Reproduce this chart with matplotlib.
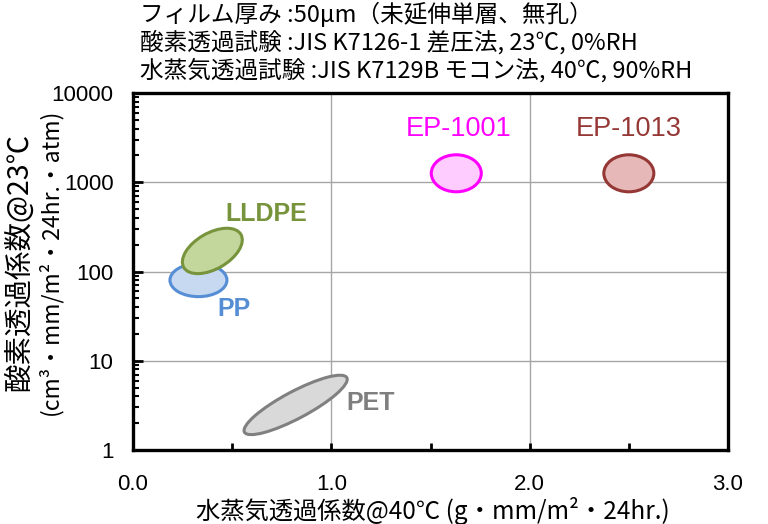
import matplotlib
matplotlib.use('Agg')
import matplotlib.pyplot as plt
from matplotlib.patches import Ellipse
from matplotlib.transforms import ScaledTranslation
from matplotlib.ticker import FixedLocator, LogLocator, NullFormatter

plt.rcParams['font.family'] = ['Noto Sans CJK JP', 'DejaVu Sans']

# data (x: water vapour coefficient, y: oxygen coefficient)
materials = ['EP-1001', 'EP-1013', 'PP', 'LLDPE', 'PET']
wvtr = [1.63, 2.50, 0.33, 0.40, 0.82]
otr = [1260, 1260, 80, 170, 3.2]
face_colors = ['#FFCCFF', '#E6B9B8', '#C6D9F1', '#C3D69B', '#D9D9D9']
edge_colors = ['#FF00FF', '#953735', '#558ED5', '#77933C', '#808080']
# ellipse size in pixels (width, height, angle)
shapes = [(50, 37, 0), (50, 37, 0), (57, 33, 0), (66, 36, 30), (116, 27, 28)]

label_text = ['EP-1001', 'EP-1013', 'PP', 'LLDPE', 'PET']
label_x = [1.64, 2.50, 0.51, 0.67, 1.20]
label_y = [4000, 4000, 38, 440, 3.4]
label_colors = ['#FF00FF', '#953735', '#558ED5', '#77933C', '#7F7F7F']
label_bold = [False, False, True, True, True]
label_size = [19.5, 19.5, 18, 18, 18]

xticks = [0.0, 1.0, 2.0, 3.0]
yticks = [1, 10, 100, 1000, 10000]

header = ['フィルム厚み :50μm（未延伸単層、無孔）',
          '酸素透過試験 :JIS K7126-1 差圧法, 23℃, 0%RH',
          '水蒸気透過試験 :JIS K7129B モコン法, 40℃, 90%RH']

fig = plt.figure(figsize=(7.68, 5.24), dpi=100)
ax = fig.add_axes([133/768, 1-450/524, 595/768, 357/524])
ax.set_yscale('log')
ax.set_xlim(0, 3.0)
ax.set_ylim(1, 10000)

ax.xaxis.set_major_locator(FixedLocator(xticks))
ax.xaxis.set_minor_locator(FixedLocator([0.5, 1.5, 2.5]))
ax.set_xticklabels(['%.1f' % v for v in xticks], family='Liberation Sans', fontsize=16)
ax.yaxis.set_major_locator(FixedLocator(yticks))
ax.yaxis.set_minor_locator(LogLocator(base=10, subs=range(2, 10)))
ax.yaxis.set_minor_formatter(NullFormatter())
ax.set_yticklabels([str(v) for v in yticks], family='Liberation Sans', fontsize=16)

ax.tick_params(axis='x', which='both', direction='in', length=5, width=2, pad=17, top=False)
ax.tick_params(axis='y', which='major', direction='in', length=7, width=2, pad=14, right=False)
ax.tick_params(axis='y', which='minor', direction='in', length=4, width=1.5, right=False)
for s in ax.spines.values():
    s.set_linewidth(2.4)
ax.grid(True, which='major', color='#A6A6A6', linewidth=1)
ax.set_axisbelow(True)

for i in range(len(materials)):
    w, h, ang = shapes[i]
    tr = fig.dpi_scale_trans + ScaledTranslation(wvtr[i], otr[i], ax.transData)
    e = Ellipse((0, 0), w/100, h/100, angle=ang, transform=tr,
                facecolor=face_colors[i], edgecolor=edge_colors[i], linewidth=2.2, zorder=5)
    ax.add_patch(e)

for i in range(len(label_text)):
    kw = {}
    if label_text[i] == 'EP-1001':
        kw['bbox'] = dict(facecolor='white', edgecolor='none', pad=9)
    ax.text(label_x[i], label_y[i], label_text[i], color=label_colors[i],
            fontsize=label_size[i], fontweight='bold' if label_bold[i] else 'normal',
            family='Liberation Sans', ha='center', va='center', zorder=4, **kw)

for k, line in enumerate(header):
    fig.text(140/768, 1-(14+28*k)/524, line, fontsize=17, ha='left', va='center')

fig.text(19/768, 1-262/524, '酸素透過係数@23℃', rotation=90, fontsize=20.5, ha='center', va='center')
fig.text(50/768, 1-262/524, '(cm³・mm/m²・24hr.・atm)', rotation=90, fontsize=16.5, ha='center', va='center')
fig.text(433/768, 1-511/524, '水蒸気透過係数@40℃ (g・mm/m²・24hr.)', fontsize=17.5, ha='center', va='center')

fig.savefig('out.png', dpi=100)
